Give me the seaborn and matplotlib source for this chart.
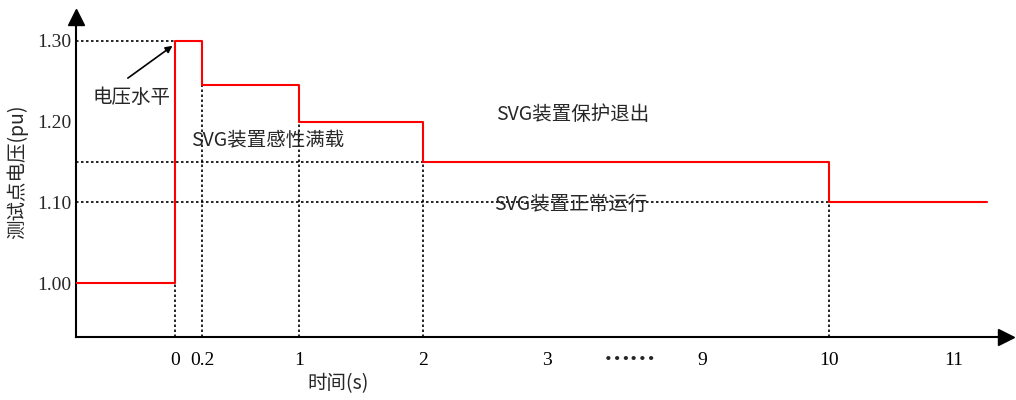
import numpy as np
import pandas as pd
import seaborn as sns
import matplotlib
matplotlib.use("Agg")
import matplotlib.pyplot as plt

# time axis is broken between 3 and 9, so times are placed on a compressed scale
tick_times = [0, 0.2, 1, 2, 3, 9, 10, 11]
tick_pos = [0, 0.22, 1, 2, 3, 4.25, 5.27, 6.28]
tick_labels = ["0", "0.2", "1", "2", "3", "9", "10", "11"]

# test point voltage (pu), step changes
step_t = [-0.8, 0, 0.2, 1, 2, 10, 11.27]
step_v = [1.00, 1.30, 1.245, 1.20, 1.15, 1.10, 1.10]

y_ticks = [1.00, 1.10, 1.20, 1.30]
y_minor = [1.05, 1.15, 1.25]

# dotted guides: (time, level)
guide_v = [(0, 1.30), (0.2, 1.245), (1, 1.20), (2, 1.15), (10, 1.10)]
guide_h = [(1.30, 0), (1.15, 2), (1.10, 11)]


def to_pos(t):
    t = np.asarray(t, dtype=float)
    p = np.interp(t, tick_times, tick_pos)
    p = np.where(t < 0, t, p)
    p = np.where(t > 11, tick_pos[-1] + (t - 11), p)
    return p


sns.set_style("white")
plt.rcParams["font.family"] = ["Noto Sans CJK SC", "DejaVu Sans"]
num_font = ["Liberation Serif", "DejaVu Serif"]

fig = plt.figure(figsize=(10.16, 4.0), dpi=100)
ax = fig.add_axes([76 / 1016, 63 / 400, (1006 - 76) / 1016, (337 - 20) / 400])

df = pd.DataFrame({"pos": to_pos(step_t), "v": step_v})
sns.lineplot(data=df, x="pos", y="v", sort=False, drawstyle="steps-post",
             color="#ff0000", lw=1.5, ax=ax, zorder=3)

ymin = 0.9333
for t, lv in guide_v:
    p = float(to_pos(t))
    ax.plot([p, p], [ymin, lv], color="black", ls=(0, (1.5, 1.5)), lw=1.2, zorder=2)
xmin = -0.798
for lv, t in guide_h:
    ax.plot([xmin, float(to_pos(t))], [lv, lv], color="black", ls=(0, (1.5, 1.5)),
            lw=1.2, zorder=2)

ax.set_xlim(xmin, 6.70)
ax.set_ylim(ymin, 1.326)

ax.set_xticks(tick_pos)
ax.set_xticklabels(tick_labels, fontfamily=num_font, fontsize=14)
ax.set_yticks(y_ticks)
ax.set_yticks(y_minor, minor=True)
ax.set_yticklabels([f"{v:.2f}" for v in y_ticks], fontfamily=num_font, fontsize=14)
ax.tick_params(axis="x", direction="in", length=6, width=1, pad=11, colors="black")
ax.tick_params(axis="y", which="major", direction="in", length=9, width=1, pad=3)
ax.tick_params(axis="y", which="minor", direction="in", length=9, width=1)

for s in ["top", "right"]:
    ax.spines[s].set_visible(False)
for s in ["left", "bottom"]:
    ax.spines[s].set_color("black")
    ax.spines[s].set_linewidth(1.5)

ax.plot(0, 1.01, marker="^", color="black", ms=11, transform=ax.transAxes, clip_on=False)
ax.plot(1, 0, marker=">", color="black", ms=11, transform=ax.transAxes, clip_on=False)

ax.set_xlabel("时间(s)", fontsize=14)
ax.xaxis.set_label_coords((338 - 76) / (1006 - 76), -0.115)
ax.set_ylabel("测试点电压(pu)", fontsize=14)
ax.yaxis.set_label_coords(-48 / 930, 0.52)

ax.text(3.67, ymin - 0.029, "……", ha="center", va="center", fontsize=19,
        fontweight="bold")

ax.annotate("", xy=(-0.02, 1.294), xytext=(-0.38, 1.254),
            arrowprops=dict(arrowstyle="-|>", color="black", lw=1.2,
                            shrinkA=0, shrinkB=0))
ax.text(-0.35, 1.23, "电压水平", ha="center", va="center", fontsize=14)
ax.text(0.75, 1.1765, "SVG装置感性满载", ha="center", va="center", fontsize=14)
ax.text(3.21, 1.2086, "SVG装置保护退出", ha="center", va="center", fontsize=14)
ax.text(3.19, 1.0975, "SVG装置正常运行", ha="center", va="center", fontsize=14)

ax.set_facecolor("white")
fig.savefig("out.png", dpi=100, facecolor="white")
